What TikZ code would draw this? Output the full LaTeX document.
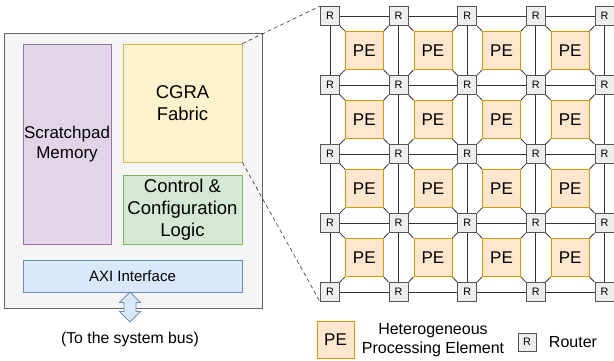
\documentclass[tikz,border=0pt]{standalone}
\usepackage{fontspec}
\setmainfont{Liberation Sans}

\definecolor{chipfill}{HTML}{F5F5F5}
\definecolor{chipline}{HTML}{666666}
\definecolor{memfill}{HTML}{E1D5E7}
\definecolor{memline}{HTML}{9673A6}
\definecolor{fabfill}{HTML}{FFF2CC}
\definecolor{fabline}{HTML}{D6B656}
\definecolor{ctlfill}{HTML}{D5E8D4}
\definecolor{ctlline}{HTML}{82B366}
\definecolor{axifill}{HTML}{DAE8FC}
\definecolor{axiline}{HTML}{6C8EBF}
\definecolor{pefill}{HTML}{FFE6CC}
\definecolor{peline}{HTML}{D79B00}
\definecolor{rtfill}{HTML}{EEEEEE}
\definecolor{rtline}{HTML}{555555}
\definecolor{wire}{HTML}{333333}

\tikzset{
  block/.style={draw, line width=0.8pt, inner sep=0pt, align=center},
  chipbox/.style={block, fill=chipfill, draw=chipline},
  membox/.style={block, fill=memfill, draw=memline},
  fabbox/.style={block, fill=fabfill, draw=fabline},
  ctlbox/.style={block, fill=ctlfill, draw=ctlline},
  axibox/.style={block, fill=axifill, draw=axiline},
  pebox/.style={block, fill=pefill, draw=peline, minimum width=38pt, minimum height=38pt,
    font=\fontsize{17}{20}\selectfont},
  router/.style={block, fill=rtfill, draw=rtline, minimum width=19pt, minimum height=19pt,
    font=\fontsize{10.8}{12}\selectfont},
  gridwire/.style={draw=wire, line width=0.8pt},
  zoomline/.style={draw=wire, line width=0.6pt, dash pattern=on 4pt off 3pt},
  busarrow/.style={fill=axifill, draw=axiline, line width=0.8pt, line join=miter},
  plain/.style={inner sep=0pt, align=center},
}

\begin{document}
\begin{tikzpicture}[x=1pt, y=-1pt]
\useasboundingbox (0,0) rectangle (614,360);

% accelerator block
\node[chipbox, minimum width=258pt, minimum height=275pt] (chip) at (133,170.5) {};
\node[membox, minimum width=88pt, minimum height=200pt,
      font=\fontsize{17}{20.7}\selectfont] (mem) at (67,144) {Scratchpad\\Memory};
\node[fabbox, minimum width=119pt, minimum height=118pt,
      font=\fontsize{18.5}{22}\selectfont] (fabric) at (182.5,103) {CGRA\\Fabric};
\node[ctlbox, minimum width=119pt, minimum height=69pt,
      font=\fontsize{18.5}{22}\selectfont] (ctl) at (182.5,209.5) {Control \&\\Configuration\\Logic};
\node[axibox, minimum width=219pt, minimum height=32pt,
      font=\fontsize{15}{18}\selectfont] (axi) at (132.5,276) {AXI Interface};

% two-way block arrow down to the system bus
\coordinate (bustop) at (130,292);
\coordinate (busend) at (130,322);
\draw[busarrow] (bustop) -- ++(10.5,10.5) -- ++(-4.5,0) -- ++(0,9) -- ++(4.5,0)
  -- (busend) -- ++(-10.5,-10.5) -- ++(4.5,0) -- ++(0,-9) -- ++(-4.5,0) -- cycle;
\node[plain, font=\fontsize{15.8}{19}\selectfont] (buslabel) at (130,339) {(To the system bus)};

% router mesh
\foreach \i in {0,...,4}{
  \foreach \j in {0,...,4}{
    \node[router] (r\i\j) at ({330+68.6*\i},{16+69*\j}) {R};
  }
}

\foreach \i in {0,...,3}{
  \foreach \j in {0,...,3}{
    \node[pebox] (p\i\j) at ({364.3+68.6*\i},{50.5+69*\j}) {PE};
  }
}

% horizontal and vertical links between routers
\foreach \i in {0,...,3}{
  \pgfmathtruncatemacro{\nxt}{\i+1}
  \foreach \j in {0,...,4}{
    \draw[gridwire] (r\i\j) -- (r\nxt\j);
    \draw[gridwire] (r\j\i) -- (r\j\nxt);
  }
}

% each PE attaches to its four corner routers
\foreach \i in {0,...,3}{
  \pgfmathtruncatemacro{\ri}{\i+1}
  \foreach \j in {0,...,3}{
    \pgfmathtruncatemacro{\dn}{\j+1}
    \draw[gridwire] (r\i\j.south east) -- (p\i\j.north west);
    \draw[gridwire] (r\ri\j.south west) -- (p\i\j.north east);
    \draw[gridwire] (r\i\dn.north east) -- (p\i\j.south west);
    \draw[gridwire] (r\ri\dn.north west) -- (p\i\j.south east);
  }
}

% zoom guides from the fabric to the mesh
\draw[zoomline] (fabric.north east) -- (r00.north west);
\draw[zoomline] (fabric.south east) -- (r04.south west);

% legend
\node[pebox, minimum width=37pt, minimum height=37pt] (legpe) at (335.5,339.5) {PE};
\node[plain, font=\fontsize{16}{19}\selectfont] (legpetext) at (433,340) {Heterogeneous\\Processing Element};
\node[router, minimum width=18pt, minimum height=18pt] (legr) at (527,342) {R};
\node[plain, font=\fontsize{16}{19}\selectfont] (legrtext) at (573,342) {Router};
\end{tikzpicture}
\end{document}
